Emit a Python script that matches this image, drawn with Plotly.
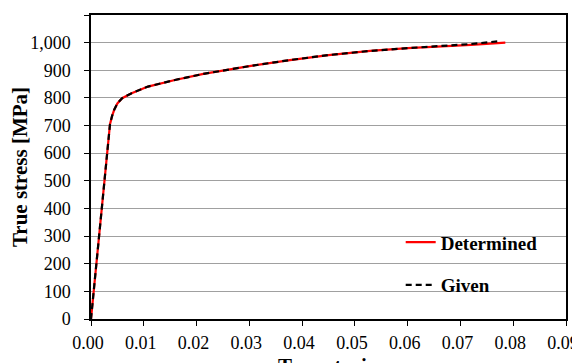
import plotly.graph_objects as go

# Data
det_strain = [0, 0.0033, 0.0036, 0.0040, 0.0044, 0.0050, 0.0059, 0.0077, 0.0108, 0.0159,
              0.0213, 0.030, 0.0377, 0.045, 0.0529, 0.060, 0.0655, 0.072, 0.0785]
det_stress = [0, 660, 705, 735, 757, 780, 799, 817, 841, 865,
              887, 915, 937, 955, 970, 980, 985, 992, 1000]

giv_strain = [0, 0.0033, 0.0036, 0.0040, 0.0044, 0.0050, 0.0059, 0.0077, 0.0108, 0.0159,
              0.0213, 0.030, 0.0377, 0.045, 0.0529, 0.060, 0.0655, 0.072, 0.0772]
giv_stress = [0, 660, 705, 735, 757, 780, 799, 817, 841, 865,
              887, 915, 937, 955, 970, 980, 986, 995, 1005]

x_ticks = [0, 0.01, 0.02, 0.03, 0.04, 0.05, 0.06, 0.07, 0.08, 0.09]
y_ticks = list(range(0, 1101, 100))

FONT = "Liberation Serif"

fig = go.Figure()
fig.add_trace(go.Scatter(x=det_strain, y=det_stress, mode="lines", name="Determined",
                         legendgroup="a", line=dict(color="#ff0000", width=2.2)))
fig.add_trace(go.Scatter(x=giv_strain, y=giv_stress, mode="lines", name="Given",
                         legendgroup="b", line=dict(color="#000000", width=2.2, dash="6px,4px")))

fig.add_shape(type="rect", xref="paper", yref="paper", x0=0.611, x1=0.985, y0=0.07, y1=0.35,
              fillcolor="white", line=dict(width=0), layer="between")

fig.add_annotation(text="<b>True strain</b>", xref="paper", yref="paper", x=0.5, y=0,
                   xanchor="center", yanchor="top", yshift=-33, showarrow=False,
                   font=dict(family=FONT, size=21, color="black"))

fig.update_layout(
    width=572, height=355,
    margin=dict(l=83, r=14, t=7, b=43.5, autoexpand=False),
    paper_bgcolor="white", plot_bgcolor="white",
    font=dict(family=FONT, size=18, color="black"),
    showlegend=True,
    legend=dict(x=0.652, y=0.315, xanchor="left", yanchor="top",
                bgcolor="rgba(0,0,0,0)", borderwidth=0,
                font=dict(family=FONT, size=19, color="black", weight="bold"),
                traceorder="grouped", tracegroupgap=15),
    xaxis=dict(range=[0, 0.09], tickvals=x_ticks, tickformat=".2f",
               showgrid=False, zeroline=False,
               showline=True, linecolor="black", linewidth=1.5, mirror=True,
               ticks="outside", ticklen=5, tickcolor="black", tickwidth=1,
               tickfont=dict(family=FONT, size=18), ticklabelstandoff=2,
               ticklabelshift=-3, ticklabeloverflow="allow", automargin=False),
    yaxis=dict(range=[0, 1100], tickvals=y_ticks, tickformat=",d",
               showgrid=True, gridcolor="#a0a0a0", gridwidth=1, zeroline=False,
               showline=True, linecolor="black", linewidth=1.5, mirror=True,
               ticks="outside", ticklen=5, tickcolor="black", tickwidth=1,
               tickfont=dict(family=FONT, size=18), ticklabelstandoff=10,
               title=dict(text="<b>True stress [MPa]</b>", font=dict(family=FONT, size=21), standoff=4),
               automargin=False),
)

fig.write_html("out.html")
